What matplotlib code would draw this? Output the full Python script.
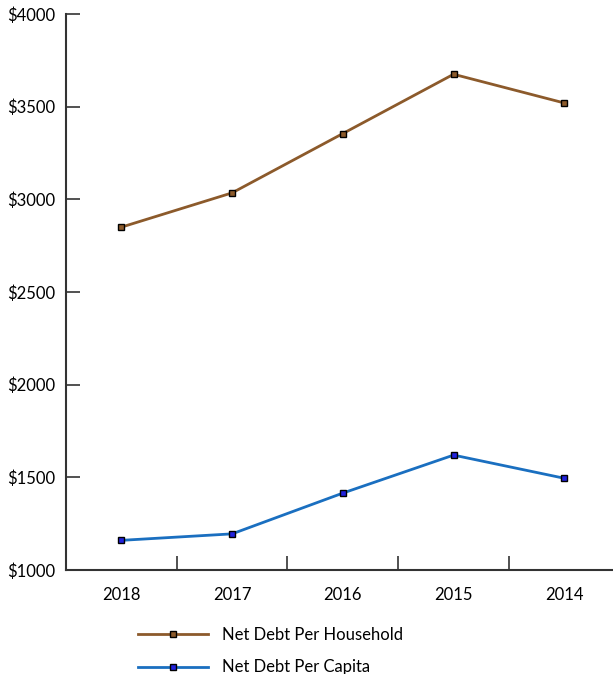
import numpy as np
import matplotlib.pyplot as plt
from matplotlib.ticker import FixedLocator

plt.rcParams['font.family'] = ['Lato', 'DejaVu Sans']

years = ['2018', '2017', '2016', '2015', '2014']
per_household = [2850, 3035, 3355, 3675, 3520]
per_capita = [1160, 1195, 1415, 1620, 1495]
y_ticks = [1000, 1500, 2000, 2500, 3000, 3500, 4000]

fig = plt.figure(figsize=(6.13, 6.74), dpi=100)
ax = fig.add_axes([0.1077, 0.1543, 0.8923, 0.8249])

x = np.arange(len(years))
ax.plot(x, per_household, color='#8c5a2b', linewidth=2, marker='s', markersize=5,
        markerfacecolor='#8c5a2b', markeredgecolor='black', markeredgewidth=1,
        label='Net Debt Per Household')
ax.plot(x, per_capita, color='#1a6fc0', linewidth=2, marker='s', markersize=5,
        markerfacecolor='#2222dd', markeredgecolor='black', markeredgewidth=1,
        label='Net Debt Per Capita')

ax.set_xlim(-0.5, 4.44)
ax.set_ylim(1000, 4000)
ax.set_xticks(x)
ax.set_xticklabels(years)
ax.xaxis.set_minor_locator(FixedLocator(x[:-1] + 0.5))
ax.set_yticks(y_ticks)
ax.set_yticklabels(['$%d' % v for v in y_ticks])

for s in ('top', 'right'):
    ax.spines[s].set_visible(False)
for s in ('left', 'bottom'):
    ax.spines[s].set_color('#333333')
    ax.spines[s].set_linewidth(1.5)

ax.tick_params(axis='x', which='major', length=0, pad=12, labelsize=12)
ax.tick_params(axis='x', which='minor', direction='in', length=10, width=1.2, color='#333333')
ax.tick_params(axis='y', direction='in', length=10, width=1.2, color='#333333', pad=8, labelsize=12)

fig.legend(loc='upper left', bbox_to_anchor=(0.215, 0.08), frameon=False,
           fontsize=12, handlelength=4.2, labelspacing=1.0, handletextpad=0.8,
           borderaxespad=0)

fig.savefig('out.png', dpi=100)
